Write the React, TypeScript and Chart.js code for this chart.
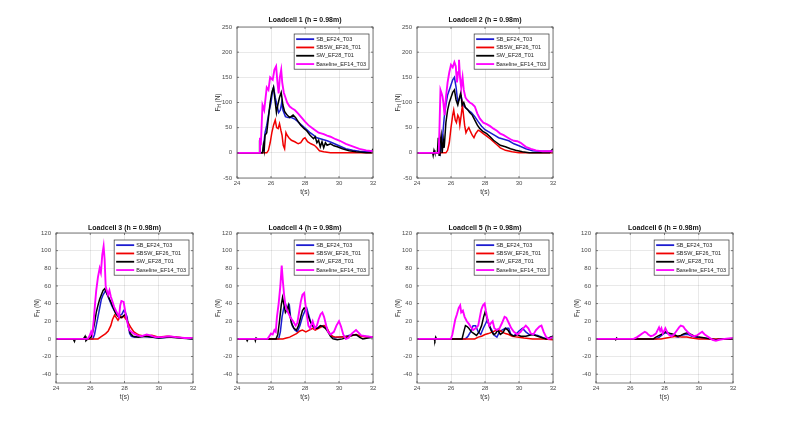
import React, { useEffect, useRef } from "react";
import { Chart, registerables } from "chart.js";

Chart.register(...registerables);

type Pt = [number, number];

// ---------------- DATA ----------------
const SERIES_NAMES = ["SB_EF24_T03", "SBSW_EF26_T01", "SW_EF28_T01", "Baseline_EF14_T03"];
const SERIES_COLORS = ["#1c1cd0", "#f00000", "#000000", "#ff00ff"];
const X_TICKS = [24, 26, 28, 30, 32];
const X_RANGE = [24, 32];
const Y_TICKS_TOP = [-50, 0, 50, 100, 150, 200, 250];
const Y_RANGE_TOP = [-50, 250];
const Y_TICKS_BOTTOM = [-40, -20, 0, 20, 40, 60, 80, 100, 120];
const Y_RANGE_BOTTOM = [-50, 120];
const TITLES = [
  "Loadcell 1 (h = 0.98m)",
  "Loadcell 2 (h = 0.98m)",
  "Loadcell 3 (h = 0.98m)",
  "Loadcell 4 (h = 0.98m)",
  "Loadcell 5 (h = 0.98m)",
  "Loadcell 6 (h = 0.98m)",
];
const X_LABEL = "t(s)";

// [t (s), F_H (N)]
const LC1_SB: Pt[] = [[24,0],[25.5,0],[25.55,10],[25.65,40],[25.75,55],[25.9,85],[26.0,100],[26.1,125],[26.15,130],[26.25,110],[26.35,95],[26.45,80],[26.55,85],[26.63,100],[26.7,85],[26.85,72],[27.0,70],[27.2,70],[27.4,67],[27.55,63],[27.7,58],[27.9,52],[28.1,46],[28.3,40],[28.5,35],[28.7,30],[29.0,27],[29.3,24],[29.6,20],[30.0,14],[30.4,8],[30.8,5],[31.2,3],[31.6,2],[32,2]];
const LC1_SBSW: Pt[] = [[24,0],[25.75,0],[25.85,5],[25.95,20],[26.05,40],[26.15,55],[26.25,65],[26.33,50],[26.42,48],[26.5,58],[26.58,45],[26.65,35],[26.72,15],[26.8,8],[26.88,40],[26.95,35],[27.05,30],[27.2,25],[27.4,22],[27.6,18],[27.75,20],[27.9,28],[28.0,30],[28.15,22],[28.35,18],[28.55,15],[28.7,10],[28.85,4],[29.1,2],[29.5,0],[32,0]];
const LC1_SW: Pt[] = [[24,0],[25.3,0],[25.33,25],[25.38,0],[25.5,0],[25.55,15],[25.6,5],[25.65,35],[25.75,40],[25.85,70],[25.95,100],[26.05,120],[26.15,130],[26.25,100],[26.32,80],[26.4,95],[26.5,110],[26.6,120],[26.7,95],[26.8,82],[26.95,75],[27.1,70],[27.3,75],[27.45,70],[27.6,62],[27.75,55],[27.95,48],[28.1,44],[28.3,35],[28.5,28],[28.6,32],[28.7,20],[28.8,25],[28.9,12],[29.0,22],[29.1,10],[29.2,20],[29.3,15],[29.5,18],[29.7,14],[29.9,12],[30.2,8],[30.6,4],[31.0,2],[31.6,0],[31.9,0],[32,8]];
const LC1_BASE: Pt[] = [[24,0],[25.3,0],[25.35,30],[25.4,15],[25.5,95],[25.6,85],[25.75,130],[25.85,125],[25.95,150],[26.1,145],[26.2,165],[26.3,172],[26.38,140],[26.45,118],[26.52,150],[26.6,165],[26.66,140],[26.75,120],[26.85,110],[26.95,100],[27.1,92],[27.25,88],[27.4,85],[27.6,78],[27.8,70],[28.0,62],[28.2,55],[28.4,50],[28.6,45],[28.8,40],[29.1,37],[29.3,34],[29.5,32],[29.8,27],[30.05,24],[30.4,18],[30.8,13],[31.2,8],[31.6,5],[32,3]];

const LC2_SB: Pt[] = [[24,0],[25.3,0],[25.35,30],[25.4,5],[25.5,30],[25.6,70],[25.7,95],[25.8,115],[25.95,130],[26.1,145],[26.2,150],[26.3,130],[26.4,100],[26.5,108],[26.6,112],[26.7,95],[26.85,90],[27.0,85],[27.2,80],[27.4,72],[27.6,62],[27.8,53],[28.0,46],[28.2,42],[28.4,38],[28.6,34],[28.8,30],[29.1,27],[29.4,24],[29.7,18],[30.0,14],[30.4,8],[30.8,4],[31.2,3],[32,3]];
const LC2_SBSW: Pt[] = [[24,0],[25.7,0],[25.8,5],[25.9,20],[26.0,50],[26.1,75],[26.16,85],[26.25,65],[26.32,60],[26.4,75],[26.47,70],[26.52,55],[26.6,75],[26.67,95],[26.72,80],[26.8,55],[26.88,40],[26.95,45],[27.05,50],[27.15,42],[27.25,35],[27.35,30],[27.45,38],[27.6,45],[27.75,42],[27.9,38],[28.1,33],[28.3,28],[28.5,22],[28.7,16],[28.9,10],[29.2,5],[29.6,2],[30.0,0],[32,0]];
const LC2_SW: Pt[] = [[24,0],[24.92,0],[24.95,-5],[25.0,5],[25.05,0],[25.2,0],[25.25,30],[25.3,-5],[25.35,20],[25.42,35],[25.48,0],[25.55,25],[25.6,10],[25.7,60],[25.8,85],[25.9,100],[26.0,110],[26.1,120],[26.2,125],[26.3,105],[26.4,95],[26.5,110],[26.58,120],[26.65,95],[26.75,100],[26.85,90],[27.0,85],[27.1,80],[27.25,75],[27.4,65],[27.55,55],[27.7,48],[27.9,42],[28.1,38],[28.3,32],[28.5,25],[28.7,20],[28.9,15],[29.2,12],[29.5,8],[29.8,5],[30.2,2],[30.6,0],[31.8,0],[32,8]];
const LC2_BASE: Pt[] = [[24,0],[25.28,0],[25.33,60],[25.38,125],[25.45,118],[25.5,112],[25.55,100],[25.62,75],[25.7,110],[25.8,140],[25.9,160],[26.0,175],[26.1,170],[26.2,180],[26.28,172],[26.35,140],[26.42,160],[26.47,185],[26.53,150],[26.6,130],[26.68,150],[26.75,125],[26.85,110],[26.95,105],[27.1,100],[27.25,97],[27.4,92],[27.55,78],[27.7,68],[27.9,60],[28.1,57],[28.3,53],[28.5,48],[28.7,44],[28.9,38],[29.1,35],[29.3,31],[29.5,27],[29.7,24],[29.9,23],[30.1,20],[30.4,12],[30.7,8],[31.0,5],[31.4,3],[32,3]];

const LC3_SB: Pt[] = [[24,0],[26.15,0],[26.25,5],[26.35,15],[26.45,25],[26.55,35],[26.65,45],[26.75,50],[26.9,55],[27.0,50],[27.1,45],[27.25,38],[27.4,32],[27.55,28],[27.7,26],[27.85,28],[27.95,32],[28.05,30],[28.15,25],[28.22,15],[28.3,6],[28.4,3],[28.6,2],[29.0,3],[29.5,2],[30.0,1],[30.8,2],[31.5,1],[32,0]];
const LC3_SBSW: Pt[] = [[24,0],[26.45,0],[26.6,2],[26.75,4],[26.9,6],[27.05,9],[27.2,15],[27.3,22],[27.42,27],[27.52,24],[27.62,21],[27.75,26],[27.85,24],[27.95,26],[28.1,22],[28.25,17],[28.4,12],[28.55,8],[28.7,6],[28.9,4],[29.2,3],[29.6,4],[30.0,2],[30.5,3],[31.0,2],[31.5,1],[32,1]];
const LC3_SW: Pt[] = [[24,0],[25.0,0],[25.08,-3],[25.12,0],[25.6,0],[25.7,3],[25.75,-2],[25.85,0],[26.05,2],[26.15,8],[26.25,18],[26.35,30],[26.45,38],[26.55,45],[26.65,50],[26.75,55],[26.85,57],[26.95,52],[27.05,48],[27.2,42],[27.35,35],[27.5,28],[27.65,25],[27.8,24],[27.95,26],[28.05,28],[28.15,22],[28.25,12],[28.35,6],[28.5,3],[28.8,2],[29.2,3],[29.6,2],[30.0,1],[30.6,2],[31.2,1],[32,0]];
const LC3_BASE: Pt[] = [[24,0],[25.85,0],[25.95,3],[26.05,8],[26.12,5],[26.2,20],[26.28,40],[26.35,55],[26.45,70],[26.55,80],[26.62,75],[26.7,95],[26.78,105],[26.84,90],[26.9,60],[26.96,55],[27.04,50],[27.12,55],[27.2,48],[27.3,42],[27.4,36],[27.5,32],[27.6,28],[27.68,25],[27.75,38],[27.82,43],[27.95,42],[28.05,30],[28.15,20],[28.28,10],[28.4,8],[28.55,6],[28.75,4],[29.0,3],[29.3,5],[29.5,4],[29.8,2],[30.2,2],[30.6,3],[31.0,2],[31.5,1],[32,1]];

const LC4_SB: Pt[] = [[24,0],[26.45,0],[26.55,8],[26.65,25],[26.75,35],[26.85,40],[26.92,36],[27.0,35],[27.08,38],[27.15,25],[27.25,15],[27.4,10],[27.55,8],[27.7,15],[27.85,25],[28.0,32],[28.1,35],[28.2,28],[28.35,18],[28.5,13],[28.7,12],[28.9,14],[29.1,15],[29.25,12],[29.4,8],[29.55,4],[29.75,1],[30.0,2],[30.4,3],[30.8,5],[31.0,4],[31.4,3],[32,2]];
const LC4_SBSW: Pt[] = [[24,0],[26.7,0],[26.9,1],[27.1,2],[27.3,4],[27.5,6],[27.7,9],[27.85,10],[28.05,8],[28.25,10],[28.45,12],[28.6,10],[28.8,12],[29.0,14],[29.15,15],[29.3,12],[29.45,6],[29.6,3],[29.8,2],[30.2,2],[30.6,3],[31.0,5],[31.3,3],[31.6,2],[32,2]];
const LC4_SW: Pt[] = [[24,0],[24.55,0],[24.6,-2],[24.65,0],[25.05,0],[25.08,-2],[25.12,1],[25.2,0],[26.3,0],[26.4,5],[26.5,20],[26.6,38],[26.68,47],[26.75,40],[26.85,30],[26.95,33],[27.02,38],[27.1,28],[27.2,18],[27.35,12],[27.5,10],[27.62,15],[27.75,25],[27.85,32],[27.95,35],[28.05,33],[28.15,28],[28.3,20],[28.45,15],[28.6,12],[28.75,12],[28.9,15],[29.05,14],[29.2,12],[29.35,8],[29.5,3],[29.65,0],[29.9,-1],[30.2,0],[30.5,2],[30.8,4],[31.0,5],[31.2,2],[31.4,0],[31.7,1],[32,2]];
const LC4_BASE: Pt[] = [[24,0],[25.8,0],[25.9,3],[26.0,6],[26.1,5],[26.2,10],[26.28,8],[26.35,25],[26.45,40],[26.55,60],[26.63,83],[26.7,65],[26.77,50],[26.85,38],[26.95,32],[27.05,28],[27.15,24],[27.3,20],[27.45,15],[27.55,18],[27.65,30],[27.75,42],[27.85,50],[27.95,52],[28.02,40],[28.1,28],[28.2,15],[28.3,12],[28.45,20],[28.58,12],[28.7,15],[28.8,22],[28.92,28],[29.02,30],[29.12,25],[29.25,15],[29.35,8],[29.5,5],[29.7,8],[29.85,15],[30.0,20],[30.12,14],[30.25,5],[30.4,0],[30.55,1],[30.75,6],[31.0,10],[31.15,7],[31.3,4],[31.6,3],[32,2]];

const LC5_SB: Pt[] = [[24,0],[26.85,0],[27.0,3],[27.15,8],[27.3,15],[27.45,15],[27.6,8],[27.75,5],[27.9,12],[28.05,18],[28.15,22],[28.25,15],[28.4,10],[28.55,4],[28.7,2],[28.85,8],[29.0,10],[29.2,12],[29.4,12],[29.5,6],[29.65,3],[29.8,5],[30.0,9],[30.2,12],[30.4,8],[30.6,5],[30.85,5],[31.1,4],[31.35,2],[31.6,0],[32,3]];
const LC5_SBSW: Pt[] = [[24,0],[27.4,0],[27.6,2],[27.8,3],[28.0,5],[28.2,6],[28.45,8],[28.7,10],[28.85,10],[29.0,8],[29.2,6],[29.4,5],[29.6,3],[29.9,2],[30.3,1],[30.8,0],[31.5,0],[32,-1]];
const LC5_SW: Pt[] = [[24,0],[25.0,0],[25.05,-2],[25.1,2],[25.15,0],[26.65,0],[26.75,8],[26.85,15],[26.95,14],[27.05,12],[27.2,8],[27.35,6],[27.5,4],[27.65,8],[27.8,15],[27.92,25],[28.0,30],[28.1,25],[28.2,18],[28.35,10],[28.5,5],[28.62,6],[28.75,10],[28.9,5],[29.05,7],[29.2,12],[29.35,10],[29.5,5],[29.7,3],[29.9,5],[30.1,3],[30.4,3],[30.8,5],[31.1,3],[31.4,1],[31.6,0],[32,3]];
const LC5_BASE: Pt[] = [[24,0],[26.0,0],[26.08,5],[26.15,12],[26.25,22],[26.35,28],[26.45,35],[26.54,38],[26.6,30],[26.7,32],[26.8,25],[26.93,20],[27.05,17],[27.15,14],[27.3,10],[27.45,12],[27.6,15],[27.7,25],[27.78,33],[27.88,38],[27.98,40],[28.05,32],[28.15,22],[28.25,15],[28.35,18],[28.45,20],[28.55,12],[28.7,10],[28.85,12],[29.0,18],[29.15,25],[29.25,24],[29.4,18],[29.55,12],[29.7,8],[29.9,5],[30.1,8],[30.25,12],[30.4,15],[30.55,12],[30.7,6],[30.85,5],[31.0,10],[31.2,14],[31.32,15],[31.45,8],[31.6,2],[31.75,0],[32,2]];

const LC6_SB: Pt[] = [[24,0],[27.5,0],[27.7,2],[27.9,5],[28.05,7],[28.2,6],[28.4,4],[28.6,3],[28.8,2],[29.0,4],[29.2,5],[29.4,5],[29.6,3],[29.8,2],[30.2,1],[30.6,0],[31.0,-1],[31.3,0],[32,0]];
const LC6_SBSW: Pt[] = [[24,0],[27.8,0],[28.1,1],[28.4,2],[28.7,3],[29.0,2],[29.3,2],[29.6,1],[30.0,0],[32,0]];
const LC6_SW: Pt[] = [[24,0],[25.1,0],[25.15,-1],[25.2,1],[25.25,0],[27.35,0],[27.5,2],[27.7,4],[27.9,6],[28.05,8],[28.2,7],[28.35,6],[28.55,5],[28.75,3],[28.95,4],[29.15,6],[29.35,7],[29.55,5],[29.75,3],[30.0,2],[30.4,1],[30.7,0],[31.0,-1],[31.3,0],[32,0]];
const LC6_BASE: Pt[] = [[24,0],[26.2,0],[26.4,2],[26.55,4],[26.7,6],[26.85,8],[26.95,7],[27.05,5],[27.2,3],[27.35,4],[27.5,6],[27.6,10],[27.68,13],[27.75,9],[27.82,12],[27.9,6],[28.0,10],[28.05,12],[28.15,8],[28.25,5],[28.4,3],[28.55,5],[28.7,9],[28.85,13],[28.95,15],[29.1,14],[29.2,11],[29.35,8],[29.5,5],[29.7,3],[29.9,4],[30.05,6],[30.2,8],[30.35,5],[30.5,3],[30.65,1],[30.8,-1],[31.0,-2],[31.2,-1],[31.5,0],[32,1]];

const PANEL_SERIES: Pt[][][] = [
  [LC1_SB, LC1_SBSW, LC1_SW, LC1_BASE],
  [LC2_SB, LC2_SBSW, LC2_SW, LC2_BASE],
  [LC3_SB, LC3_SBSW, LC3_SW, LC3_BASE],
  [LC4_SB, LC4_SBSW, LC4_SW, LC4_BASE],
  [LC5_SB, LC5_SBSW, LC5_SW, LC5_BASE],
  [LC6_SB, LC6_SBSW, LC6_SW, LC6_BASE],
];

// ---------------- LAYOUT ----------------
const FONT = "'Liberation Sans', Arial, Helvetica, sans-serif";
const Y_AXIS_W = 40;
const X_AXIS_H = 18;
const PAD_TOP = 14;
const PAD_RIGHT = 10;
const PAD_BOTTOM = 2;

const LAYOUT = [
  { left: 237, top: 27, w: 136, h: 151, titleOff: 7, top2: true },
  { left: 417, top: 27, w: 136, h: 151, titleOff: 7, top2: true },
  { left: 56, top: 233, w: 137, h: 150, titleOff: 5, top2: false },
  { left: 237, top: 233, w: 136, h: 150, titleOff: 5, top2: false },
  { left: 417, top: 233, w: 136, h: 150, titleOff: 5, top2: false },
  { left: 596, top: 233, w: 137, h: 150, titleOff: 5, top2: false },
];

function Panel({ idx }: { idx: number }) {
  const ref = useRef<HTMLCanvasElement>(null);
  const lay = LAYOUT[idx];
  const cw = Y_AXIS_W + lay.w + PAD_RIGHT;
  const ch = PAD_TOP + lay.h + X_AXIS_H + PAD_BOTTOM;
  const yTicks = lay.top2 ? Y_TICKS_TOP : Y_TICKS_BOTTOM;
  const yRange = lay.top2 ? Y_RANGE_TOP : Y_RANGE_BOTTOM;

  useEffect(() => {
    const canvas = ref.current!;
    const decor = {
      id: "decor" + idx,
      afterDraw(chart: any) {
        const { ctx, chartArea: a, scales } = chart;
        ctx.save();
        // box
        ctx.strokeStyle = "#5a5a5a";
        ctx.lineWidth = 0.8;
        ctx.strokeRect(a.left, a.top, a.right - a.left, a.bottom - a.top);
        // inner tick marks
        ctx.beginPath();
        X_TICKS.forEach((v) => {
          const x = scales.x.getPixelForValue(v);
          ctx.moveTo(x, a.bottom); ctx.lineTo(x, a.bottom - 2);
          ctx.moveTo(x, a.top); ctx.lineTo(x, a.top + 2);
        });
        yTicks.forEach((v) => {
          const y = scales.y.getPixelForValue(v);
          ctx.moveTo(a.left, y); ctx.lineTo(a.left + 2, y);
          ctx.moveTo(a.right, y); ctx.lineTo(a.right - 2, y);
        });
        ctx.stroke();
        // title
        ctx.fillStyle = "#111";
        ctx.font = `bold 7px ${FONT}`;
        ctx.textAlign = "center";
        ctx.textBaseline = "middle";
        ctx.fillText(TITLES[idx], (a.left + a.right) / 2, a.top - lay.titleOff);
        // y label F_H (N)
        const cx = a.left - 19;
        const cy = (a.top + a.bottom) / 2;
        ctx.translate(cx, cy);
        ctx.rotate(-Math.PI / 2);
        ctx.fillStyle = "#333";
        ctx.textAlign = "left";
        ctx.textBaseline = "middle";
        const f1 = `6.5px ${FONT}`;
        const f2 = `4.5px ${FONT}`;
        ctx.font = f1;
        const wF = ctx.measureText("F").width;
        const wN = ctx.measureText(" (N)").width;
        ctx.font = f2;
        const wH = ctx.measureText("H").width;
        let x0 = -(wF + wH + wN) / 2;
        ctx.font = f1;
        ctx.fillText("F", x0, 0);
        x0 += wF;
        ctx.font = f2;
        ctx.fillText("H", x0, 2);
        x0 += wH;
        ctx.font = f1;
        ctx.fillText(" (N)", x0, 0);
        ctx.setTransform(1, 0, 0, 1, 0, 0);
        // legend
        ctx.font = `5.5px ${FONT}`;
        const tw = Math.max(...SERIES_NAMES.map((n) => ctx.measureText(n).width));
        const rowH = 8.3;
        const bw = 22 + tw + 3;
        const bh = rowH * 4 + 2;
        const bx = a.right - 4 - bw;
        const by = a.top + 7;
        ctx.fillStyle = "#fff";
        ctx.fillRect(bx, by, bw, bh);
        ctx.strokeStyle = "#333";
        ctx.lineWidth = 0.7;
        ctx.strokeRect(bx, by, bw, bh);
        SERIES_NAMES.forEach((n, i) => {
          const y = by + 1 + rowH * (i + 0.5);
          ctx.strokeStyle = SERIES_COLORS[i];
          ctx.lineWidth = 1.8;
          ctx.beginPath();
          ctx.moveTo(bx + 2, y);
          ctx.lineTo(bx + 20, y);
          ctx.stroke();
          ctx.fillStyle = "#222";
          ctx.textAlign = "left";
          ctx.textBaseline = "middle";
          ctx.fillText(n, bx + 22, y);
        });
        ctx.restore();
      },
    };

    const chart = new Chart(canvas, {
      type: "line",
      data: {
        datasets: PANEL_SERIES[idx].map((s, i) => ({
          label: SERIES_NAMES[i],
          data: s.map(([x, y]) => ({ x, y })),
          borderColor: SERIES_COLORS[i],
          backgroundColor: SERIES_COLORS[i],
          borderWidth: i === 3 ? 1.9 : 1.5,
          pointRadius: 0,
          tension: 0,
          fill: false,
          order: 4 - i,
        })),
      },
      options: {
        animation: false,
        responsive: false,
        devicePixelRatio: 1,
        layout: { padding: { top: PAD_TOP, right: PAD_RIGHT, bottom: PAD_BOTTOM, left: 0 } },
        plugins: {
          legend: { display: false },
          tooltip: { enabled: false },
          title: { display: false },
        },
        scales: {
          x: {
            type: "linear",
            min: X_RANGE[0],
            max: X_RANGE[1],
            afterBuildTicks: (s: any) => { s.ticks = X_TICKS.map((v) => ({ value: v })); },
            afterFit: (s: any) => { s.height = X_AXIS_H; },
            grid: { color: "rgba(0,0,0,0.11)", lineWidth: 0.8, drawTicks: false },
            border: { display: false },
            ticks: { padding: 1.5, color: "#4a4a4a", font: { family: FONT, size: 6 }, maxRotation: 0, autoSkip: false },
            title: { display: true, text: X_LABEL, color: "#333", padding: 0, font: { family: FONT, size: 6.5 } },
          },
          y: {
            type: "linear",
            min: yRange[0],
            max: yRange[1],
            afterBuildTicks: (s: any) => { s.ticks = yTicks.map((v) => ({ value: v })); },
            afterFit: (s: any) => { s.width = Y_AXIS_W; },
            grid: { color: "rgba(0,0,0,0.11)", lineWidth: 0.8, drawTicks: false },
            border: { display: false },
            ticks: { padding: 5, color: "#4a4a4a", font: { family: FONT, size: 6 }, autoSkip: false },
          },
        },
      },
      plugins: [decor],
    } as any);
    return () => chart.destroy();
  }, [idx]);

  return (
    <canvas
      ref={ref}
      width={cw}
      height={ch}
      style={{ position: "absolute", left: lay.left - Y_AXIS_W, top: lay.top - PAD_TOP, width: cw, height: ch }}
    />
  );
}

export default function App() {
  return (
    <div style={{ position: "absolute", left: 0, top: 0, width: 789, height: 423, background: "#fff", overflow: "hidden" }}>
      {LAYOUT.map((_, i) => (
        <Panel key={i} idx={i} />
      ))}
    </div>
  );
}
